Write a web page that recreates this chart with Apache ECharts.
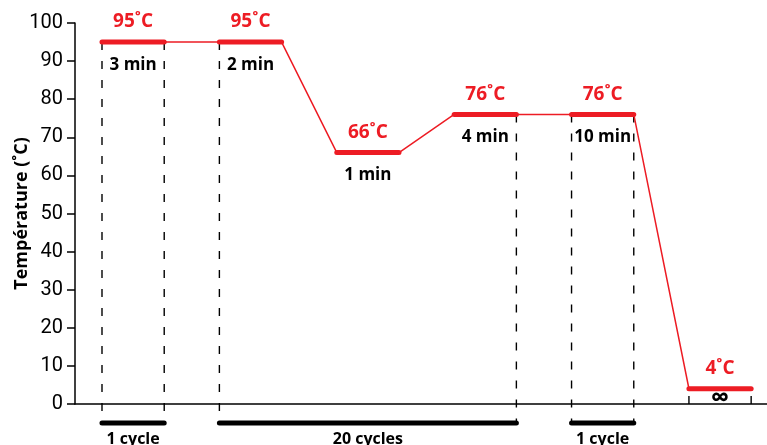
<!DOCTYPE html>
<html><head><meta charset="utf-8">
<script src="https://cdn.jsdelivr.net/npm/echarts@6/dist/echarts.min.js"></script>
<style>html,body{margin:0;padding:0;background:#fff}#c{width:767px;height:445px}</style>
</head><body><div id="c"></div>
<script>
// PCR temperature profile (schematic time units)
const holdStarts = [0, 2, 4, 6, 8, 10];
const holdLength = 1.06;
const temps = [95, 95, 66, 76, 76, 4];
const tempLabels = ['95˚C', '95˚C', '66˚C', '76˚C', '76˚C', '4˚C'];
const durationLabels = ['3 min', '2 min', '1 min', '4 min', '10 min', '∞'];
// dashed guides: [x, top value, bottom value]
const guides = [[0, 95, -5], [1.06, 95, -5], [2, 95, -5], [7.06, 76, -5], [8, 76, -5], [9.06, 76, -5], [10, 0, 4], [11.06, 0, 4]];
// cycle bars
const cycleStarts = [0, 2, 8];
const cycleEnds = [1.06, 7.06, 9.06];
const cycleLabels = ['1 cycle', '20 cycles', '1 cycle'];
const yTicks = [0, 10, 20, 30, 40, 50, 60, 70, 80, 90, 100];

const RED = '#ed1c24';
const FONT = '"Open Sans"';

const profile = [];
holdStarts.forEach((s, i) => { profile.push([s, temps[i]]); profile.push([s + holdLength, temps[i]]); });
const holds = holdStarts.map((s, i) => [s, s + holdLength, temps[i], i]);
const cycles = cycleStarts.map((s, i) => [s, cycleEnds[i], i]);

const chart = echarts.init(document.getElementById('c'));
chart.setOption({
  animation: false,
  grid: { left: 75, right: 0, top: 23, bottom: 41, containLabel: false, outerBoundsMode: 'none' },
  xAxis: {
    type: 'value', min: -0.46, max: 11.33,
    axisLine: { show: true, onZero: true, lineStyle: { color: '#000', width: 1.5 } },
    axisTick: { show: false }, axisLabel: { show: false }, splitLine: { show: false }
  },
  yAxis: {
    type: 'value', min: 0, max: 100, interval: 10,
    name: 'Température (˚C)', nameLocation: 'middle', nameGap: 44, nameMoveOverlap: false,
    nameTextStyle: { fontFamily: FONT, fontWeight: 'bold', fontSize: 18, color: '#000' },
    axisLine: { show: true, onZero: false, lineStyle: { color: '#000', width: 1.5 } },
    axisTick: { show: true, inside: false, length: 8, lineStyle: { color: '#000', width: 1.5 } },
    axisLabel: { fontFamily: 'Roboto', fontSize: 20, color: '#000', margin: 12,
      formatter: v => yTicks.includes(v) ? String(v) : '' },
    splitLine: { show: false }
  },
  series: [
    {
      type: 'line', data: profile, symbol: 'none', silent: true,
      lineStyle: { color: RED, width: 1.5 }, z: 2
    },
    {
      type: 'custom', data: guides, clip: false, silent: true, z: 1,
      renderItem: (params, api) => {
        const p1 = api.coord([api.value(0), api.value(1)]);
        const p2 = api.coord([api.value(0), api.value(2)]);
        return { type: 'line', shape: { x1: p1[0], y1: p1[1], x2: p2[0], y2: p2[1] },
          style: { stroke: '#000', lineWidth: 1.4, lineDash: [8, 11] } };
      }
    },
    {
      type: 'custom', data: holds, clip: false, silent: true, z: 3,
      renderItem: (params, api) => {
        const i = api.value(3);
        const a = api.coord([api.value(0), api.value(2)]);
        const b = api.coord([api.value(1), api.value(2)]);
        const cx = (a[0] + b[0]) / 2;
        const below = i === 5 ? 10 : 23;
        return { type: 'group', children: [
          { type: 'line', shape: { x1: a[0], y1: a[1], x2: b[0], y2: b[1] },
            style: { stroke: RED, lineWidth: 5, lineCap: 'round' } },
          { type: 'text', x: cx, y: a[1] - 20,
            style: { text: tempLabels[i], fill: RED, font: 'bold 19px ' + FONT, align: 'center', verticalAlign: 'middle' } },
          { type: 'text', x: cx, y: a[1] + below,
            style: { text: durationLabels[i], fill: '#000', font: (i === 5 ? 'bold 26px ' : 'bold 17px ') + FONT, align: 'center', verticalAlign: 'middle' } }
        ] };
      }
    },
    {
      type: 'custom', data: cycles, clip: false, silent: true, z: 3,
      renderItem: (params, api) => {
        const i = api.value(2);
        const a = api.coord([api.value(0), -5]);
        const b = api.coord([api.value(1), -5]);
        return { type: 'group', children: [
          { type: 'line', shape: { x1: a[0], y1: a[1], x2: b[0], y2: b[1] },
            style: { stroke: '#000', lineWidth: 5, lineCap: 'round' } },
          { type: 'text', x: (a[0] + b[0]) / 2, y: a[1] + 16,
            style: { text: cycleLabels[i], fill: '#000', font: 'bold 16px ' + FONT, align: 'center', verticalAlign: 'middle' } }
        ] };
      }
    }
  ]
});
</script></body></html>
